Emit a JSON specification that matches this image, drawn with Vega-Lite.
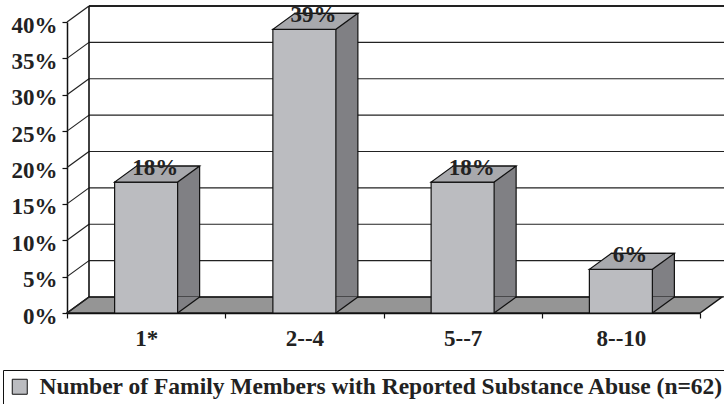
{
  "$schema": "https://vega.github.io/schema/vega-lite/v6.json",
  "width": 633,
  "height": 291,
  "autosize": {"type": "none"},
  "padding": {"left": 67, "top": 22, "right": 24, "bottom": 91},
  "background": "white",
  "config": {
    "view": {"stroke": null},
    "font": "Liberation Serif",
    "axisX": {
      "labelAngle": 0, "tickBand": "extent", "tickSize": 5, "tickColor": "#111", "tickWidth": 1.2,
      "domainColor": "#111", "domainWidth": 1.5, "labelPadding": 9, "grid": false,
      "labelFont": "Liberation Serif", "labelFontWeight": "bold", "labelFontSize": 23, "labelColor": "#222"
    },
    "axisY": {
      "grid": false, "tickCount": 8, "labelOverlap": false, "format": ".0%",
      "tickSize": 5, "tickColor": "#111", "tickWidth": 1.2, "domainColor": "#111", "domainWidth": 1.5,
      "labelPadding": 5, "labelOffset": 3,
      "labelFont": "Liberation Serif", "labelFontWeight": "bold", "labelFontSize": 23, "labelColor": "#222"
    }
  },
  "datasets": {
    "bars": [
      {"group": "1*", "value": 0.18, "series": "Number of Family Members with Reported Substance Abuse (n=62)"},
      {"group": "2--4", "value": 0.39, "series": "Number of Family Members with Reported Substance Abuse (n=62)"},
      {"group": "5--7", "value": 0.18, "series": "Number of Family Members with Reported Substance Abuse (n=62)"},
      {"group": "8--10", "value": 0.06, "series": "Number of Family Members with Reported Substance Abuse (n=62)"}
    ],
    "ticks": [
      {"v": 0}, {"v": 0.05}, {"v": 0.1}, {"v": 0.15}, {"v": 0.2},
      {"v": 0.25}, {"v": 0.3}, {"v": 0.35}, {"v": 0.4}
    ],
    "one": [{}]
  },
  "layer": [
    {
      "layer": [
        {
          "data": {"name": "one"},
          "mark": {"type": "point", "shape": "M0,0 L633,0 L655,-16 L22,-16 Z", "size": 4, "filled": true, "fill": "#959595", "stroke": "#111", "strokeWidth": 1.5, "opacity": 1},
          "encoding": {
            "x": {"datum": 0, "type": "quantitative", "scale": {"domain": [0, 1], "nice": false}, "axis": null},
            "y": {"datum": 0, "type": "quantitative", "title": null}
          }
        },
        {
          "data": {"name": "ticks"},
          "mark": {"type": "rule", "xOffset": 22, "x2Offset": 24, "yOffset": -16, "color": "#222"},
          "encoding": {
            "x": {"datum": 0, "type": "quantitative", "axis": null},
            "x2": {"datum": 1},
            "y": {"field": "v", "type": "quantitative", "title": null},
            "strokeWidth": {"condition": {"test": "datum.v > 0.39", "value": 2.2}, "value": 1.2}
          }
        },
        {
          "data": {"name": "ticks"},
          "mark": {"type": "rule", "x2Offset": 22, "y2Offset": -16, "color": "#222", "strokeWidth": 1.2},
          "encoding": {
            "x": {"datum": 0, "type": "quantitative", "axis": null},
            "x2": {"datum": 0},
            "y": {"field": "v", "type": "quantitative", "title": null},
            "y2": {"field": "v"}
          }
        },
        {
          "data": {"name": "one"},
          "mark": {"type": "rule", "xOffset": 22, "yOffset": -16, "y2Offset": -16, "color": "#111", "strokeWidth": 1.6},
          "encoding": {
            "x": {"datum": 0, "type": "quantitative", "axis": null},
            "y": {"datum": 0, "type": "quantitative", "title": null},
            "y2": {"datum": 0.4}
          }
        }
      ]
    },
    {
      "data": {"name": "bars"},
      "layer": [
        {
          "mark": {"type": "bar", "width": 63, "xOffset": 22, "yOffset": -16, "y2Offset": -16, "fill": "#808084", "stroke": "#111", "strokeWidth": 1.2},
          "encoding": {
            "x": {"field": "group", "type": "nominal", "sort": null, "title": null, "scale": {"paddingInner": 0, "paddingOuter": 0}},
            "y": {"field": "value", "type": "quantitative", "title": null}
          }
        },
        {
          "mark": {"type": "point", "shape": "M31.5,0 L53.5,-16 L31.5,-16 Z", "size": 4, "filled": true, "fill": "#808084", "strokeWidth": 0, "opacity": 1},
          "encoding": {
            "x": {"field": "group", "type": "nominal", "sort": null, "title": null},
            "y": {"datum": 0, "type": "quantitative", "title": null}
          }
        },
        {
          "mark": {"type": "bar", "width": 63, "stroke": "#111", "strokeWidth": 1.2},
          "encoding": {
            "x": {"field": "group", "type": "nominal", "sort": null, "title": null},
            "y": {
              "field": "value", "type": "quantitative", "title": null,
              "scale": {"domain": [0, 0.4], "nice": false}
            },
            "fill": {
              "field": "series", "type": "nominal",
              "scale": {"range": ["#bbbcc0"]},
              "legend": {
                "orient": "none", "legendX": -64, "legendY": 348, "title": null,
                "strokeColor": "#111", "padding": 5, "labelOffset": 8,
                "labelFont": "Liberation Serif", "labelFontWeight": "bold", "labelFontSize": 23.5, "labelColor": "#222", "labelLimit": 0,
                "symbolType": "square", "symbolSize": 225, "symbolStrokeColor": "#111", "symbolStrokeWidth": 1
              }
            }
          }
        },
        {
          "mark": {"type": "point", "shape": "M31.5,0 L53.5,-16", "size": 4, "filled": false, "stroke": "#111", "strokeWidth": 1.2, "opacity": 1},
          "encoding": {
            "x": {"field": "group", "type": "nominal", "sort": null, "title": null},
            "y": {"datum": 0, "type": "quantitative", "title": null}
          }
        },
        {
          "mark": {"type": "point", "shape": "M-31.5,0 L31.5,0 L53.5,-16 L-9.5,-16 Z", "size": 4, "filled": true, "fill": "#a8a9ad", "stroke": "#111", "strokeWidth": 1.2, "opacity": 1},
          "encoding": {
            "x": {"field": "group", "type": "nominal", "sort": null, "title": null},
            "y": {"field": "value", "type": "quantitative", "title": null}
          }
        },
        {
          "mark": {"type": "text", "dx": 9, "dy": -7, "baseline": "alphabetic", "align": "center", "font": "Liberation Serif", "fontWeight": "bold", "fontSize": 23, "color": "#222"},
          "encoding": {
            "x": {"field": "group", "type": "nominal", "sort": null, "title": null},
            "y": {"field": "value", "type": "quantitative", "title": null},
            "text": {"field": "value", "type": "quantitative", "format": ".0%"}
          }
        }
      ]
    }
  ],
  "resolve": {"scale": {"x": "independent"}}
}
